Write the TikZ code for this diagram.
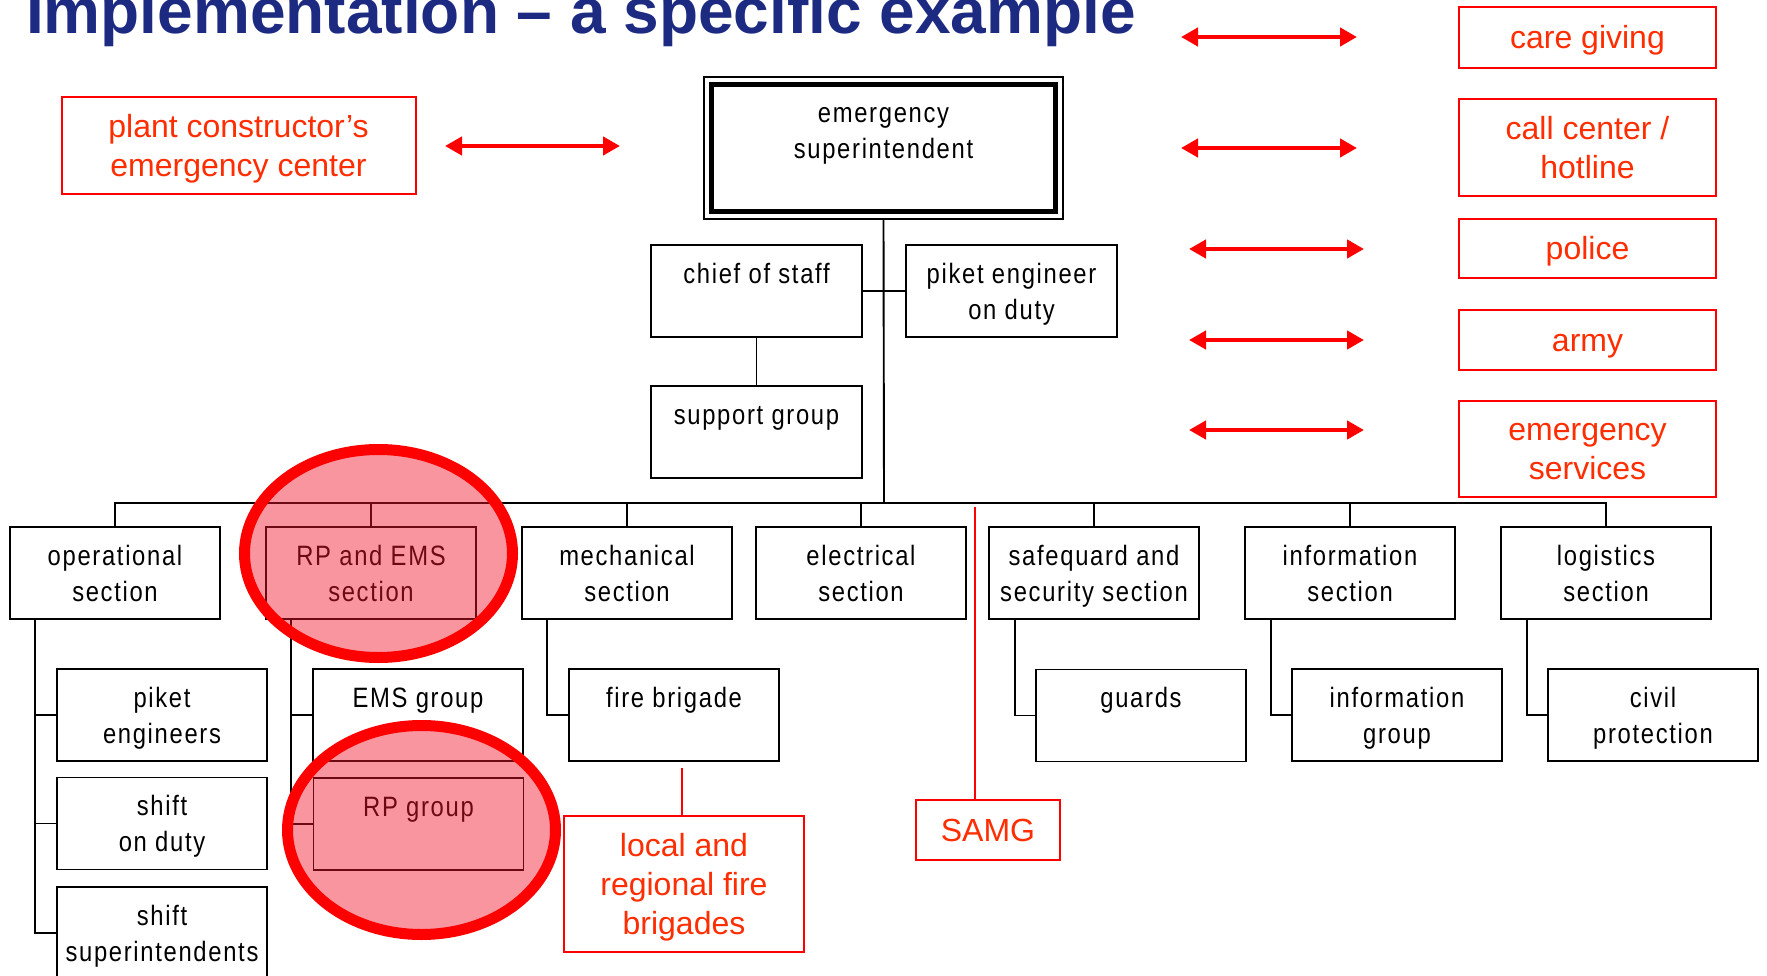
\documentclass[tikz,border=0pt]{standalone}
\usepackage{fontspec}
\setmainfont{Liberation Sans}
\newfontfamily\nfont[FakeStretch=0.85,LetterSpace=6]{Liberation Sans}
\usetikzlibrary{arrows.meta}
\definecolor{titleblue}{RGB}{28,42,130}
\definecolor{rtext}{RGB}{255,45,0}
\definecolor{efill}{RGB}{240,20,40}
\newcommand\bs{\rule[-7.9pt]{0pt}{36pt}}
\newcommand\rs{\rule[-8.2pt]{0pt}{39pt}}
\begin{document}
\begin{tikzpicture}[x=1pt,y=-1pt,
  bbox/.style={draw=black, line width=1.9pt, fill=white, minimum width=210pt, minimum height=92pt,
    inner sep=0pt, outer sep=0pt, align=center, font=\nfont\fontsize{28}{36}\selectfont},
  rbox/.style={draw=red, line width=2pt, fill=white, text=rtext, inner sep=0pt, outer sep=0pt,
    minimum width=257pt, align=center, font=\fontsize{32}{39}\selectfont},
  conn/.style={draw=black, line width=1.9pt},
  rline/.style={draw=red, line width=2pt},
  rarr/.style={draw=red, line width=4.5pt, {Triangle[length=17pt,width=18pt]}-{Triangle[length=17pt,width=18pt]}},
  hilite/.style={draw=red, line width=11pt, fill=efill, fill opacity=0.45}
]
\useasboundingbox (0,0) rectangle (1767,976);

% title
\node[anchor=base west, inner sep=0pt, text=titleblue, font=\fontsize{64}{70}\selectfont\bfseries] (title) at (26,34) {Implementation – a specific example};

% top
\node[bbox, minimum width=359pt, minimum height=142pt, line width=1.3pt] (sup) at (883.5,148) {\bs emergency\\\bs superintendent\\\bs};
\draw[line width=4.5pt] ([xshift=7.5pt,yshift=-7.5pt]sup.north west) rectangle ([xshift=-7.5pt,yshift=7.5pt]sup.south east);
\node[bbox, minimum width=211pt] (chief) at (756.5,291) {\bs chief of staff\\\bs};
\node[bbox, minimum width=211pt] (piket) at (1011.5,291) {\bs piket engineer\\\bs on duty};
\node[bbox, minimum width=211pt] (support) at (756.5,432) {\bs support group\\\bs};

% sections
\node[bbox] (op) at (115,573) {\bs operational\\\bs section};
\node[bbox] (rp) at (371,573) {\bs RP and EMS\\\bs section};
\node[bbox] (mech) at (627,573) {\bs mechanical\\\bs section};
\node[bbox] (elec) at (861,573) {\bs electrical\\\bs section};
\node[bbox] (safe) at (1094,573) {\bs safequard and\\\bs security section};
\node[bbox] (info) at (1350,573) {\bs information\\\bs section};
\node[bbox] (log) at (1606,573) {\bs logistics\\\bs section};

% sub groups
\node[bbox] (pe) at (162,715) {\bs piket\\\bs engineers};
\node[bbox] (sod) at (162,823.5) {\bs shift\\\bs on duty};
\node[bbox] (ss) at (162,933) {\bs shift\\\bs superintendents};
\node[bbox] (ems) at (418,715) {\bs EMS group\\\bs};
\node[bbox] (rpg) at (418.5,824) {\bs RP group\\\bs};
\node[bbox] (fire) at (674,715) {\bs fire brigade\\\bs};
\node[bbox] (guards) at (1141,715.5) {\bs guards\\\bs};
\node[bbox] (infog) at (1397,715) {\bs information\\\bs group};
\node[bbox] (civil) at (1653,715) {\bs civil\\\bs protection};

% connectors
\coordinate (bus) at (884,503);
\draw[conn] (sup.south) -- (bus);
\draw[conn] (op.north) |- (bus) -| (log.north);
\foreach \n in {rp,mech,elec,safe,info} {\draw[conn] (\n.north) -- (\n.north |- bus);}
\draw[conn] (chief.east) -- (piket.west);
\draw[conn] (chief.south) -- (support.north);
\draw[conn] ([xshift=25pt]op.south west) |- (pe.west);
\draw[conn] ([xshift=25pt]op.south west) |- (sod.west);
\draw[conn] ([xshift=25pt]op.south west) |- (ss.west);
\draw[conn] ([xshift=25pt]rp.south west) |- (ems.west);
\draw[conn] ([xshift=25pt]rp.south west) |- (rpg.west);
\draw[conn] ([xshift=25pt]mech.south west) |- (fire.west);
\draw[conn] ([xshift=26pt]safe.south west) |- (guards.west);
\draw[conn] ([xshift=26pt]info.south west) |- (infog.west);
\draw[conn] ([xshift=26pt]log.south west) |- (civil.west);

% red boxes
\node[rbox, minimum width=354pt, minimum height=97pt] (plant) at (238.5,145.5) {\rs plant constructor’s\\\rs emergency center};
\node[rbox, minimum height=61pt] (care) at (1587.5,37.5) {\rs care giving};
\node[rbox, minimum height=97pt] (call) at (1587.5,147.5) {\rs call center /\\\rs hotline};
\node[rbox, minimum height=59pt] (police) at (1587.5,248.5) {\rs police};
\node[rbox, minimum height=60pt] (army) at (1587.5,340) {\rs army};
\node[rbox, minimum height=96pt] (es) at (1587.5,449) {\rs emergency\\\rs services};
\node[rbox, minimum width=144pt, minimum height=60pt] (samg) at (988,830) {\rs SAMG};
\node[rbox, minimum width=240pt, minimum height=136pt] (lrfb) at (684,884) {\rs local and\\\rs regional fire\\\rs brigades};

% red lines
\coordinate (samgtop) at (975,507);
\draw[rline] (samgtop) -- (samgtop |- samg.north);
\coordinate (lrftop) at (682,768);
\draw[rline] (lrftop) -- (lrftop |- lrfb.north);

% arrows
\coordinate (pa1) at (445,146); \coordinate (pa2) at (620,146);
\coordinate (ca1) at (1181,37); \coordinate (ca2) at (1357,37);
\coordinate (cc1) at (1181,148); \coordinate (cc2) at (1357,148);
\coordinate (po1) at (1189,249); \coordinate (po2) at (1364,249);
\coordinate (ar1) at (1189,340); \coordinate (ar2) at (1364,340);
\coordinate (es1) at (1189,430); \coordinate (es2) at (1364,430);
\draw[rarr] (pa1) -- (pa2);
\draw[rarr] (ca1) -- (ca2);
\draw[rarr] (cc1) -- (cc2);
\draw[rarr] (po1) -- (po2);
\draw[rarr] (ar1) -- (ar2);
\draw[rarr] (es1) -- (es2);

% highlights
\path[hilite] (378.5,553.5) ellipse [x radius=134pt, y radius=104pt];
\path[hilite] (421.5,830) ellipse [x radius=134pt, y radius=104.5pt];
\end{tikzpicture}
\end{document}
